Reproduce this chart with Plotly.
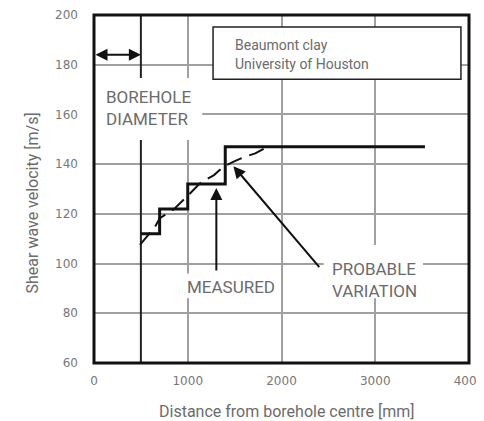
import plotly.graph_objects as go

# ---- data ----
measured_x = [500, 700, 700, 1000, 1000, 1400, 1400, 3530]
measured_y = [112, 112, 122, 122, 132, 132, 147, 147]

probable_x = [490, 650, 700, 850, 990, 1130, 1280, 1380, 1490, 1610, 1720, 1850]
probable_y = [107.5, 114.7, 118.2, 121.8, 126.9, 132.3, 135.6, 139.0, 141.0, 143.0, 144.3, 147.0]

borehole_x = [500, 500]
borehole_y = [60, 200]

x_ticks = [0, 1000, 2000, 3000, 4000]
y_ticks = [60, 80, 100, 120, 140, 160, 180, 200]

legend_lines = ["Beaumont clay", "University of Houston"]

TXT = "#6b6b6b"
GRID = "#a0a0a0"

fig = go.Figure()

fig.add_trace(go.Scatter(x=borehole_x, y=borehole_y, mode="lines",
                         line=dict(color="#222", width=2), showlegend=False, hoverinfo="skip"))
fig.add_trace(go.Scatter(x=probable_x, y=probable_y, mode="lines",
                         line=dict(color="#111", width=2, dash="16px,8px"), showlegend=False, hoverinfo="skip"))
fig.add_trace(go.Scatter(x=measured_x, y=measured_y, mode="lines",
                         line=dict(color="#111", width=3), showlegend=False, hoverinfo="skip"))

# masks (white areas interrupting the grid behind the text labels)
masks = [
    (0, 1155, 149.7, 174.7),
    (970, 1950, 86, 96),
    (2450, 3510, 86, 107.5),
]
for x0, x1, y0, y1 in masks:
    fig.add_shape(type="rect", xref="x", yref="y", x0=x0, x1=x1, y0=y0, y1=y1,
                  fillcolor="white", line=dict(width=0), layer="above")

# legend box
fig.add_shape(type="rect", xref="x", yref="y", x0=1270, x1=3914, y0=174.2, y1=195.2,
              fillcolor="white", line=dict(color="#222", width=1.5), layer="above")
# frame
fig.add_shape(type="rect", xref="paper", yref="paper", x0=0, x1=1, y0=0, y1=1,
              line=dict(color="#111", width=3), layer="above")

ann = []
ann.append(dict(x=1487, y=188, xref="x", yref="y", text=legend_lines[0], showarrow=False,
                xanchor="left", yanchor="middle", font=dict(family="Roboto", size=14, color=TXT)))
ann.append(dict(x=1487, y=180.3, xref="x", yref="y", text=legend_lines[1], showarrow=False,
                xanchor="left", yanchor="middle", font=dict(family="Roboto", size=14, color=TXT)))
ann.append(dict(x=110, y=162.7, xref="x", yref="y", text="BOREHOLE<br>DIAMETER", showarrow=False,
                xanchor="left", yanchor="middle", align="left",
                font=dict(family="Roboto", size=17, color=TXT)))
ann.append(dict(x=1460, y=90.6, xref="x", yref="y", text="MEASURED", showarrow=False,
                xanchor="center", yanchor="middle", font=dict(family="Roboto", size=17, color=TXT)))
ann.append(dict(x=2990, y=93.5, xref="x", yref="y", text="PROBABLE<br>VARIATION", showarrow=False,
                xanchor="center", yanchor="middle", align="left",
                font=dict(family="Roboto", size=17, color=TXT)))
# arrows
ann.append(dict(x=1305, y=130.4, ax=1305, ay=96.6, xref="x", yref="y", axref="x", ayref="y",
                text="", showarrow=True, arrowhead=2, arrowsize=1.2, arrowwidth=2, arrowcolor="#111"))
ann.append(dict(x=1487, y=139.2, ax=2417, ay=98, xref="x", yref="y", axref="x", ayref="y",
                text="", showarrow=True, arrowhead=2, arrowsize=1.2, arrowwidth=2, arrowcolor="#111"))
ann.append(dict(x=500, y=184, ax=0, ay=184, xref="x", yref="y", axref="x", ayref="y",
                text="", showarrow=True, arrowhead=2, arrowside="end+start", arrowsize=1.2,
                arrowwidth=2, arrowcolor="#111"))
# axis titles (positions in window pixels)
ann.append(dict(x=20, y=203, xref="paper", yref="paper", text="Shear wave velocity [m/s]",
                showarrow=False, textangle=-90, font=dict(family="Roboto", size=16, color=TXT)))
ann.append(dict(x=287, y=400, xref="paper", yref="paper", text="Distance from borehole centre [mm]",
                showarrow=False, yanchor="top", font=dict(family="Roboto", size=16, color=TXT)))

# the page body has an 8px margin, so the figure is offset by (8, 8) in the window
OFF = 8
W, H = 484 - OFF, 421 - OFF
L, R, T, B = 94 - OFF, 15, 15 - OFF, 58
PL, PT = L + OFF, T + OFF  # plot area origin in window pixels
PW, PH = W - L - R, H - T - B
for a in ann[-2:]:
    px, py = a["x"], a["y"]
    a["x"] = (px - PL) / PW
    a["y"] = 1 - (py - PT) / PH

fig.update_layout(
    width=W, height=H, margin=dict(l=L, r=R, t=T, b=B, autoexpand=False),
    plot_bgcolor="white", paper_bgcolor="white",
    annotations=ann, showlegend=False,
    font=dict(family="DejaVu Sans", color="#777"),
)
fig.update_xaxes(range=[0, 4000], tickvals=x_ticks, showgrid=True, gridcolor=GRID, gridwidth=1.5,
                 zeroline=False, showline=False, ticks="", ticklabelstandoff=9,
                 automargin=False, ticklabeloverflow="allow",
                 tickfont=dict(family="DejaVu Sans", size=12, color="#777"))
fig.update_yaxes(range=[60, 200], tickvals=y_ticks, showgrid=True, gridcolor=GRID, gridwidth=1.5,
                 zeroline=False, showline=False, ticks="", ticklabelstandoff=15,
                 automargin=False,
                 tickfont=dict(family="DejaVu Sans", size=12, color="#777"))

fig.write_html("out.html")
